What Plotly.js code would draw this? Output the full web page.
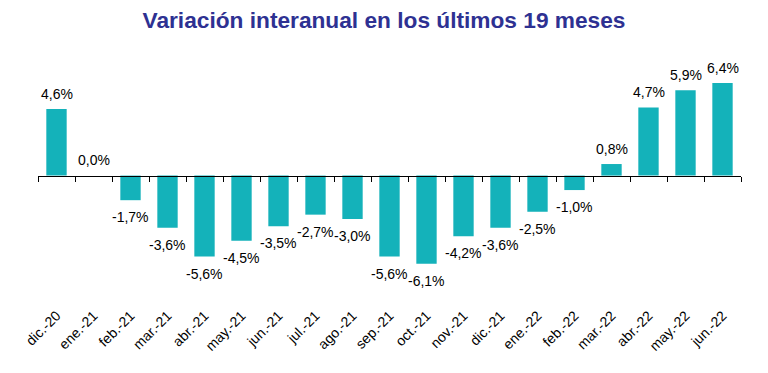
<!DOCTYPE html>
<html>
<head>
<meta charset="utf-8">
<script src="https://cdn.plot.ly/plotly-3.0.1.min.js"></script>
<style>html,body{margin:0;padding:0;background:#fff;}#chart{width:768px;height:373px;}</style>
</head>
<body>
<div id="chart"></div>
<script>
const months = ["dic.-20","ene.-21","feb.-21","mar.-21","abr.-21","may.-21","jun.-21","jul.-21","ago.-21","sep.-21","oct.-21","nov.-21","dic.-21","ene.-22","feb.-22","mar.-22","abr.-22","may.-22","jun.-22"];
const variation = [4.6, 0.0, -1.7, -3.6, -5.6, -4.5, -3.5, -2.7, -3.0, -5.6, -6.1, -4.2, -3.6, -2.5, -1.0, 0.8, 4.7, 5.9, 6.4];
const chartTitle = "Variación interanual en los últimos 19 meses";

const labels = variation.map(v => v.toFixed(1).replace('.', ',') + '%');
const yRange = [-8.6, 7.3];
const n = months.length;
const boundaries = Array.from({length: n + 1}, (_, i) => i - 0.5);

const traces = [
  {
    type: 'bar',
    x: months,
    y: variation,
    marker: {color: '#14B2BA'},
    hoverinfo: 'x+y',
    showlegend: false
  },
  {
    type: 'scatter',
    x: [],
    y: [],
    xaxis: 'x2',
    mode: 'markers',
    hoverinfo: 'skip',
    showlegend: false
  }
];

const annotations = months.map((m, i) => ({
  x: m,
  y: variation[i],
  xref: 'x',
  yref: 'y',
  text: labels[i],
  showarrow: false,
  xanchor: 'center',
  yanchor: 'middle',
  yshift: variation[i] >= 0 ? 15.5 : -17,
  font: {family: 'Liberation Sans, Arial, sans-serif', size: 14, color: '#000'}
}));

const layout = {
  width: 768,
  height: 373,
  margin: {l: 38, r: 27, t: 70, b: 73},
  paper_bgcolor: '#fff',
  plot_bgcolor: '#fff',
  bargap: 0.45,
  annotations: annotations,
  title: {
    text: '<b>' + chartTitle + '</b>',
    x: 0.5,
    xanchor: 'center',
    y: 0.946,
    yanchor: 'middle',
    font: {family: 'Liberation Sans, Arial, sans-serif', size: 22.7, color: '#2E3192'}
  },
  xaxis: {
    type: 'category',
    range: [-0.5, n - 0.5],
    showline: false,
    showgrid: false,
    zeroline: false,
    ticks: 'outside',
    ticklen: 1,
    tickcolor: 'rgba(0,0,0,0)',
    tickangle: -45,
    tickfont: {family: 'Liberation Sans, Arial, sans-serif', size: 14, color: '#000'},
    fixedrange: true
  },
  xaxis2: {
    type: 'linear',
    overlaying: 'x',
    anchor: 'free',
    position: (0 - yRange[0]) / (yRange[1] - yRange[0]),
    side: 'bottom',
    range: [-0.5, n - 0.5],
    tickmode: 'array',
    tickvals: boundaries,
    showticklabels: false,
    ticks: 'outside',
    ticklen: 5,
    tickwidth: 1,
    tickcolor: '#000',
    showline: true,
    linecolor: '#000',
    linewidth: 1,
    showgrid: false,
    zeroline: false,
    fixedrange: true
  },
  yaxis: {
    range: yRange,
    visible: false,
    showgrid: false,
    zeroline: false,
    fixedrange: true
  }
};

Plotly.newPlot('chart', traces, layout, {displayModeBar: false, staticPlot: true});
</script>
</body>
</html>
